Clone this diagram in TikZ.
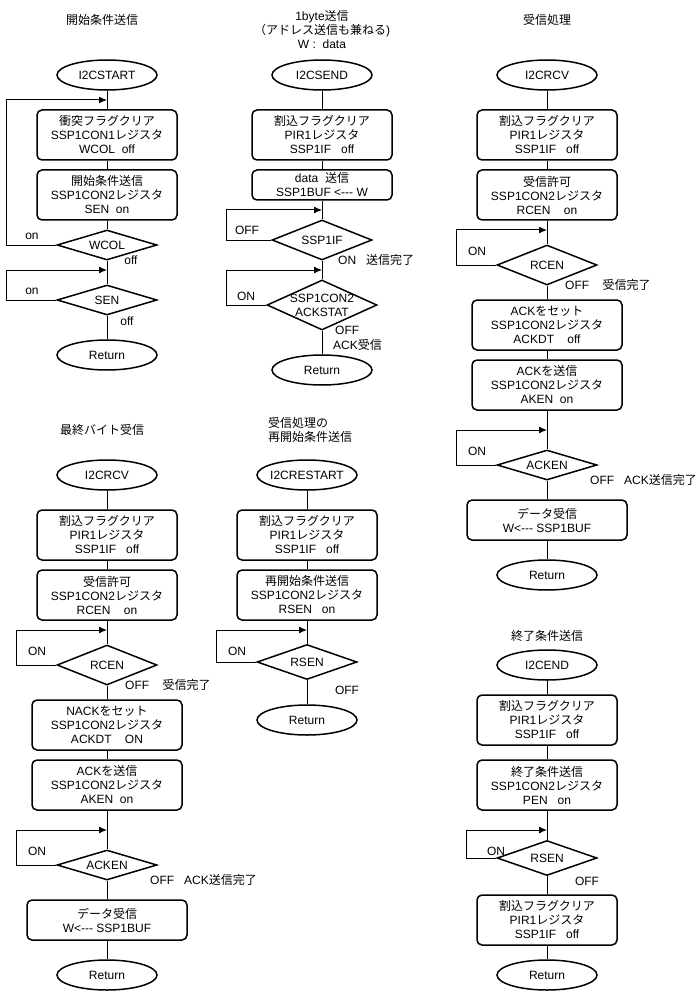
\documentclass[tikz,border=0pt]{standalone}
\usepackage{fontspec}
\setmainfont{Liberation Sans}
\newfontfamily\jpfont{Noto Sans CJK JP}
\newcommand\jp[1]{{\jpfont #1}}
\usetikzlibrary{shapes.geometric,arrows.meta}

\tikzset{
  term/.style={draw, line width=1.5, ellipse, minimum width=100, minimum height=30, inner sep=0pt,
    label={center:#1}},
  proc/.style={draw, line width=1.5, rounded corners=5, minimum width=140, minimum height=50, align=center, inner sep=0pt},
  dec/.style={draw, line width=1.5, diamond, minimum width=100, minimum height=30, inner sep=0pt,
    label={[align=center]center:#1}},
  lbl/.style={inner sep=0pt},
  flow/.style={line width=1},
}

\begin{document}
\begin{tikzpicture}[>={Latex[length=8pt,width=7pt]}, x=1pt, y=-1pt, font=\fontsize{12}{14}\selectfont]
  \useasboundingbox (0,0) rectangle (698,992);
  % start condition
  \begin{scope}[xshift=107]
    \node[lbl] (tA) at (-5,20) {\jp{開始条件送信}};
    \node[term=I2CSTART] (sA) at (0,75) {};
    \node[proc] (a1) at (0,135) {\jp{衝突フラグクリア}\\SSP1CON1\jp{レジスタ}\\WCOL\ \ off};
    \node[proc] (a2) at (0,195) {\jp{開始条件送信}\\SSP1CON2\jp{レジスタ}\\SEN\ \ on};
    \node[dec=WCOL] (a3) at (0,245) {};
    \node[dec=SEN] (a4) at (0,300) {};
    \node[term=Return] (rA) at (0,355) {};
    \foreach \u/\v in {sA/a1,a1/a2,a2/a3,a3/a4,a4/rA}
      \draw[flow] (\u) -- (\v);
    \coordinate (a1in) at (0,100);
    \coordinate (a4in) at (0,270);
    \draw[flow,->] (a3.west) -- ++(-50,0) |- (a1in);
    \draw[flow,->] (a4.west) -- ++(-50,0) |- (a4in);
    \node[lbl] (a3on) at (-75,236) {on};
    \node[lbl] (a3off) at (24,260) {off};
    \node[lbl] (a4on) at (-75,291) {on};
    \node[lbl] (a4off) at (20,321) {off};
  \end{scope}
  % 1byte send
  \begin{scope}[xshift=322]
    \node[lbl, align=center] (tB) at (0,30) {1byte\jp{送信}\\\jp{（アドレス送信も兼ねる})\\W :\ \ data};
    \node[term=I2CSEND] (sB) at (0,75) {};
    \node[proc] (b1) at (0,135) {\jp{割込フラグクリア}\\PIR1\jp{レジスタ}\\SSP1IF\ \ \ off};
    \node[proc, minimum height=30] (b2) at (0,185) {data\ \ \jp{送信}\\SSP1BUF <{-}{-}{-} W};
    \node[dec=SSP1IF, minimum height=40] (b3) at (0,240) {};
    \node[dec=SSP1CON2\\ACKSTAT, minimum width=110, minimum height=50] (b4) at (0,305) {};
    \node[term=Return] (rB) at (0,370) {};
    \foreach \u/\v in {sB/b1,b1/b2,b2/b3,b3/b4,b4/rB}
      \draw[flow] (\u) -- (\v);
    \coordinate (b3in) at (0,210);
    \coordinate (b4in) at (0,270);
    \draw[flow,->] (b3.west) -- ++(-45,0) |- (b3in);
    \draw[flow,->] (b4.west) -- ++(-40,0) |- (b4in);
    \node[lbl] (b3off) at (-75,230) {OFF};
    \node[lbl, anchor=west] (b3on) at (16,260) {ON\ \ \ \jp{送信完了}};
    \node[lbl] (b4on) at (-76,296) {ON};
    \node[lbl, anchor=west] (b4off) at (13,330) {OFF};
    \node[lbl, anchor=west] (b4ack) at (11,345) {ACK\jp{受信}};
  \end{scope}
  % receive
  \begin{scope}[xshift=547]
    \node[lbl] (tC) at (0,20) {\jp{受信処理}};
    \node[term=I2CRCV] (sC) at (0,75) {};
    \node[proc] (c1) at (0,135) {\jp{割込フラグクリア}\\PIR1\jp{レジスタ}\\SSP1IF\ \ \ off};
    \node[proc] (c2) at (0,195) {\jp{受信許可}\\SSP1CON2\jp{レジスタ}\\RCEN\ \ \ \ on};
    \node[dec=RCEN, minimum height=40] (c3) at (0,265) {};
    \node[proc, minimum width=150] (c4) at (0,325) {ACK\jp{をセット}\\SSP1CON2\jp{レジスタ}\\ACKDT\ \ \ \ off};
    \node[proc, minimum width=150] (c5) at (0,385) {ACK\jp{を送信}\\SSP1CON2\jp{レジスタ}\\AKEN\ \ on};
    \node[dec=ACKEN] (c6) at (0,465) {};
    \node[proc, minimum width=160, minimum height=40] (c7) at (0,520) {\jp{データ受信}\\W<{-}{-}{-} SSP1BUF};
    \node[term=Return] (rC) at (0,575) {};
    \foreach \u/\v in {sC/c1,c1/c2,c2/c3,c3/c4,c4/c5,c5/c6,c6/c7,c7/rC}
      \draw[flow] (\u) -- (\v);
    \coordinate (c3in) at (0,230);
    \coordinate (c6in) at (0,430);
    \draw[flow,->] (c3.west) -- ++(-40,0) |- (c3in);
    \draw[flow,->] (c6.west) -- ++(-40,0) |- (c6in);
    \node[lbl] (c3on) at (-70,251) {ON};
    \node[lbl, anchor=west] (c3off) at (18,285) {OFF\ \ \ \ \jp{受信完了}};
    \node[lbl] (c6on) at (-70,451) {ON};
    \node[lbl, anchor=west] (c6off) at (43,480) {OFF\ \ \ ACK\jp{送信完了}};
  \end{scope}
  % last byte receive
  \begin{scope}[xshift=107]
    \node[lbl] (tD) at (-5,430) {\jp{最終バイト受信}};
    \node[term=I2CRCV] (sD) at (0,475) {};
    \node[proc] (d1) at (0,535) {\jp{割込フラグクリア}\\PIR1\jp{レジスタ}\\SSP1IF\ \ \ off};
    \node[proc] (d2) at (0,595) {\jp{受信許可}\\SSP1CON2\jp{レジスタ}\\RCEN\ \ \ \ on};
    \node[dec=RCEN, minimum height=40] (d3) at (0,665) {};
    \node[proc, minimum width=150] (d4) at (0,725) {NACK\jp{をセット}\\SSP1CON2\jp{レジスタ}\\ACKDT\ \ \ \ ON};
    \node[proc, minimum width=150] (d5) at (0,785) {ACK\jp{を送信}\\SSP1CON2\jp{レジスタ}\\AKEN\ \ on};
    \node[dec=ACKEN] (d6) at (0,865) {};
    \node[proc, minimum width=160, minimum height=40] (d7) at (0,920) {\jp{データ受信}\\W<{-}{-}{-} SSP1BUF};
    \node[term=Return] (rD) at (0,975) {};
    \foreach \u/\v in {sD/d1,d1/d2,d2/d3,d3/d4,d4/d5,d5/d6,d6/d7,d7/rD}
      \draw[flow] (\u) -- (\v);
    \coordinate (d3in) at (0,630);
    \coordinate (d6in) at (0,830);
    \draw[flow,->] (d3.west) -- ++(-40,0) |- (d3in);
    \draw[flow,->] (d6.west) -- ++(-40,0) |- (d6in);
    \node[lbl] (d3on) at (-70,651) {ON};
    \node[lbl, anchor=west] (d3off) at (18,685) {OFF\ \ \ \ \jp{受信完了}};
    \node[lbl] (d6on) at (-70,851) {ON};
    \node[lbl, anchor=west] (d6off) at (43,880) {OFF\ \ \ ACK\jp{送信完了}};
  \end{scope}
  % restart
  \begin{scope}[xshift=307]
    \node[lbl, anchor=west, align=left] (tE) at (-39,430) {\jp{受信処理の}\\\jp{再開始条件送信}};
    \node[term=I2CRESTART] (sE) at (0,475) {};
    \node[proc] (e1) at (0,535) {\jp{割込フラグクリア}\\PIR1\jp{レジスタ}\\SSP1IF\ \ \ off};
    \node[proc] (e2) at (0,595) {\jp{再開始条件送信}\\SSP1CON2\jp{レジスタ}\\RSEN\ \ \ on};
    \node[dec=RSEN, minimum height=35] (e3) at (0,662) {};
    \node[term=Return] (rE) at (0,720) {};
    \foreach \u/\v in {sE/e1,e1/e2,e2/e3,e3/rE}
      \draw[flow] (\u) -- (\v);
    \coordinate (e3in) at (0,630);
    \draw[flow,->] (e3.west) -- ++(-40,0) |- (e3in);
    \node[lbl] (e3on) at (-70,651) {ON};
    \node[lbl] (e3off) at (40,690) {OFF};
  \end{scope}
  % stop condition
  \begin{scope}[xshift=547]
    \node[lbl] (tF) at (0,636) {\jp{終了条件送信}};
    \node[term=I2CEND] (sF) at (0,665) {};
    \node[proc] (f1) at (0,720) {\jp{割込フラグクリア}\\PIR1\jp{レジスタ}\\SSP1IF\ \ \ off};
    \node[proc] (f2) at (0,785) {\jp{終了条件送信}\\SSP1CON2\jp{レジスタ}\\PEN\ \ \ on};
    \node[dec=RSEN, minimum height=35] (f3) at (0,858) {};
    \node[proc] (f4) at (0,920) {\jp{割込フラグクリア}\\PIR1\jp{レジスタ}\\SSP1IF\ \ \ off};
    \node[term=Return] (rF) at (0,975) {};
    \foreach \u/\v in {sF/f1,f1/f2,f2/f3,f3/f4,f4/rF}
      \draw[flow] (\u) -- (\v);
    \coordinate (f3in) at (0,830);
    \draw[flow,->] (f3.west) -- ++(-30,0) |- (f3in);
    \node[lbl] (f3on) at (-51,851) {ON};
    \node[lbl] (f3off) at (40,881) {OFF};
  \end{scope}
\end{tikzpicture}
\end{document}
